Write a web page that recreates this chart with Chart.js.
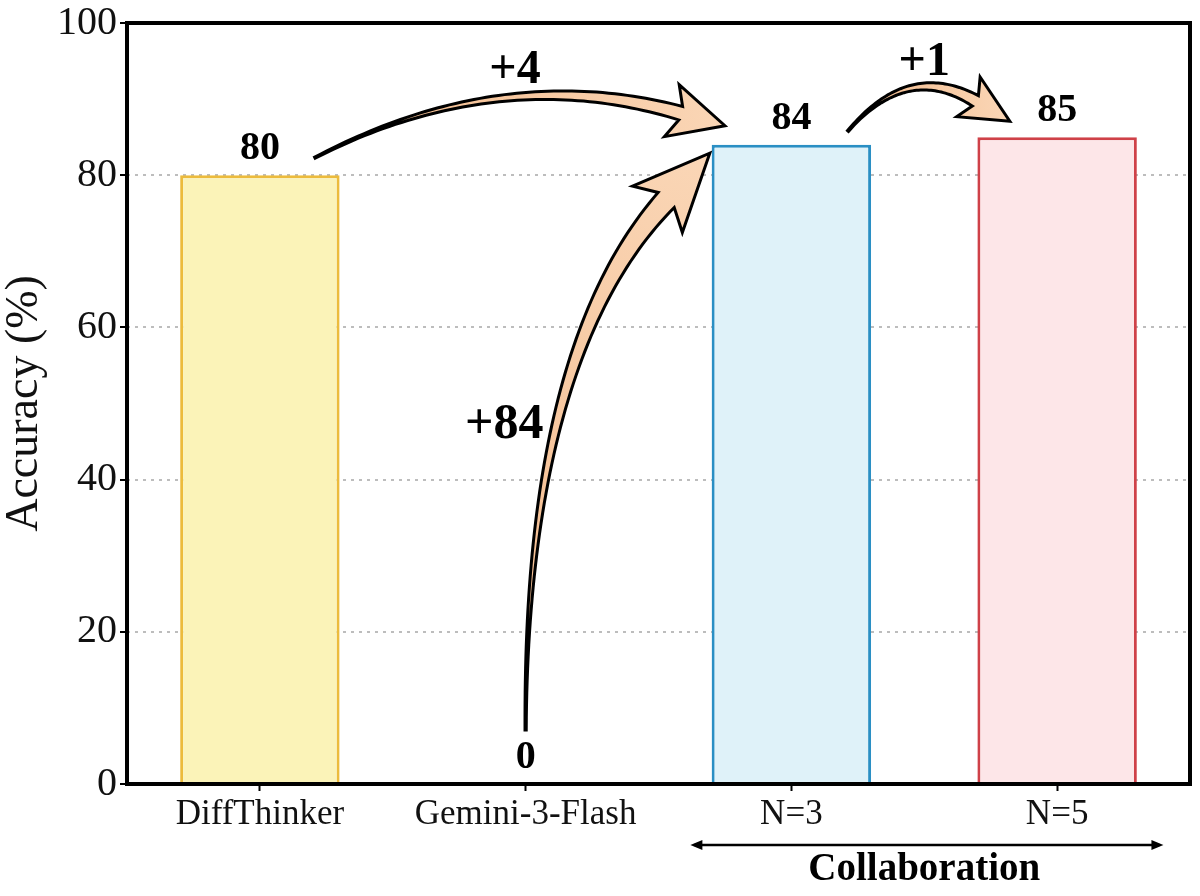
<!DOCTYPE html>
<html>
<head>
<meta charset="utf-8">
<title>Accuracy</title>
<script src="https://cdn.jsdelivr.net/npm/chart.js@4.4.1/dist/chart.umd.min.js"></script>
<style>
  html, body { margin: 0; padding: 0; background: #fff; }
  #wrap { width: 1200px; height: 896px; }
</style>
</head>
<body>
<div id="wrap"><canvas id="myChart" width="1200" height="896"></canvas></div>
<script>
// Données du graphe
const categories = ["DiffThinker", "Gemini-3-Flash", "N=3", "N=5"];
const accuracy = [80, 0, 84, 85];
const yTicks = [0, 20, 40, 60, 80, 100];
const gains = ["+4", "+84", "+1"];
const groupLabel = "Collaboration";

// Couleurs des barres
const fillColors = ["#fbf3b8", "#eeeeee", "#dff2f9", "#fde6e8"];
const borderColors = ["#ecbb3c", "#999999", "#2a8fc4", "#cf4148"];

const serif = '"Liberation Serif", "DejaVu Serif", serif';

// Flèches courbes : départ, point de contrôle, pointe (index de catégorie, valeur)
const arrows = [
    { from: [0.207, 82.3], ctrl: [0.903, 94.9], tip: [1.75, 86.5], headLen: 46, headHalf: 27, shaftHalf: 7, label: gains[0], labelAt: [0.96, 93.7], size: 48 },
    { from: [1.0, 7.1], ctrl: [1.0, 56.9], tip: [1.693, 82.9], headLen: 64, headHalf: 34, shaftHalf: 11, label: gains[1], labelAt: [0.92, 47.1], size: 50 },
    { from: [2.213, 85.8], ctrl: [2.438, 95.0], tip: [2.822, 87.1], headLen: 40, headHalf: 23, shaftHalf: 6, label: gains[2], labelAt: [2.5, 94.75], size: 48 }
];

function toPixel(chart, p) {
    return [chart.scales.x.getPixelForValue(p[0]), chart.scales.y.getPixelForValue(p[1])];
}

function drawArrow(ctx, chart, a) {
    const S = toPixel(chart, a.from);
    const C = toPixel(chart, a.ctrl);
    const T = toPixel(chart, a.tip);
    let dx = T[0] - C[0], dy = T[1] - C[1];
    const len = Math.hypot(dx, dy);
    dx /= len; dy /= len;
    // base de la pointe
    const B = [T[0] - dx * a.headLen, T[1] - dy * a.headLen];

    const left = [], right = [];
    const n = 60;
    for (let i = 0; i <= n; i++) {
        const t = i / n, u = 1 - t;
        const x = u * u * S[0] + 2 * u * t * C[0] + t * t * B[0];
        const y = u * u * S[1] + 2 * u * t * C[1] + t * t * B[1];
        let tx = 2 * u * (C[0] - S[0]) + 2 * t * (B[0] - C[0]);
        let ty = 2 * u * (C[1] - S[1]) + 2 * t * (B[1] - C[1]);
        const l = Math.hypot(tx, ty);
        tx /= l; ty /= l;
        const w = 0.6 + (a.shaftHalf - 0.6) * Math.pow(t, 1.3);
        left.push([x - ty * w, y + tx * w]);
        right.push([x + ty * w, y - tx * w]);
    }
    const nx = -dy, ny = dx;
    const back = a.headLen * 0.2;
    const barbL = [B[0] - dx * back + nx * a.headHalf, B[1] - dy * back + ny * a.headHalf];
    const barbR = [B[0] - dx * back - nx * a.headHalf, B[1] - dy * back - ny * a.headHalf];

    ctx.save();
    ctx.beginPath();
    ctx.moveTo(left[0][0], left[0][1]);
    left.forEach(p => ctx.lineTo(p[0], p[1]));
    ctx.lineTo(barbL[0], barbL[1]);
    ctx.lineTo(T[0], T[1]);
    ctx.lineTo(barbR[0], barbR[1]);
    for (let i = right.length - 1; i >= 0; i--) {
        ctx.lineTo(right[i][0], right[i][1]);
    }
    ctx.closePath();
    const grad = ctx.createLinearGradient(S[0], S[1], T[0], T[1]);
    grad.addColorStop(0, "#f3b98a");
    grad.addColorStop(1, "#fad6b6");
    ctx.fillStyle = grad;
    ctx.fill();
    ctx.lineWidth = 3;
    ctx.lineJoin = "miter";
    ctx.strokeStyle = "#000";
    ctx.stroke();

    // texte du gain
    const L = toPixel(chart, a.labelAt);
    ctx.fillStyle = "#000";
    ctx.font = "bold " + a.size + "px " + serif;
    ctx.textAlign = "center";
    ctx.textBaseline = "middle";
    ctx.fillText(a.label, L[0], L[1]);
    ctx.restore();
}

// Plugin : valeurs au-dessus des barres, flèches, cadre et groupe "Collaboration"
const annotations = {
    id: "annotations",
    afterDatasetsDraw(chart) {
        const ctx = chart.ctx;
        const meta = chart.getDatasetMeta(0);
        ctx.save();
        ctx.fillStyle = "#000";
        ctx.font = "bold 40px " + serif;
        ctx.textAlign = "center";
        ctx.textBaseline = "alphabetic";
        meta.data.forEach((bar, i) => {
            ctx.fillText(String(accuracy[i]), bar.x, bar.y - 16);
        });
        ctx.restore();

        arrows.forEach(a => drawArrow(ctx, chart, a));
    },
    afterDraw(chart) {
        const ctx = chart.ctx;
        const area = chart.chartArea;
        const x = chart.scales.x;
        ctx.save();
        // cadre noir
        ctx.strokeStyle = "#000";
        ctx.lineWidth = 4;
        ctx.strokeRect(area.left, area.top, area.right - area.left, area.bottom - area.top);

        // double flèche sous N=3 et N=5
        const x1 = x.getPixelForValue(1.62);
        const x2 = x.getPixelForValue(3.4);
        const yA = area.bottom + 61;
        ctx.lineWidth = 2.5;
        ctx.beginPath();
        ctx.moveTo(x1 + 4, yA);
        ctx.lineTo(x2 - 4, yA);
        ctx.stroke();
        ctx.fillStyle = "#000";
        ctx.beginPath();
        ctx.moveTo(x1, yA);
        ctx.lineTo(x1 + 12, yA - 5);
        ctx.lineTo(x1 + 12, yA + 5);
        ctx.closePath();
        ctx.fill();
        ctx.beginPath();
        ctx.moveTo(x2, yA);
        ctx.lineTo(x2 - 12, yA - 5);
        ctx.lineTo(x2 - 12, yA + 5);
        ctx.closePath();
        ctx.fill();

        ctx.font = "bold 39px " + serif;
        ctx.textAlign = "center";
        ctx.textBaseline = "alphabetic";
        ctx.fillText(groupLabel, (x.getPixelForValue(2) + x.getPixelForValue(3)) / 2, area.bottom + 96);
        ctx.restore();
    }
};

Chart.defaults.font.family = serif;
Chart.defaults.color = "#111";

const ctx = document.getElementById("myChart").getContext("2d");
const myChart = new Chart(ctx, {
    type: "bar",
    data: {
        labels: categories,
        datasets: [{
            data: accuracy,
            backgroundColor: fillColors,
            borderColor: borderColors,
            borderWidth: 3,
            borderSkipped: "start",
            barPercentage: 0.6,
            categoryPercentage: 1.0
        }]
    },
    options: {
        responsive: false,
        animation: false,
        layout: { padding: { top: 22, right: 10, left: 0, bottom: 0 } },
        plugins: {
            legend: { display: false },
            tooltip: { enabled: false }
        },
        scales: {
            x: {
                offset: true,
                grid: {
                    offset: false,
                    drawOnChartArea: false,
                    drawTicks: true,
                    tickLength: 7,
                    tickWidth: 2,
                    tickColor: "#000"
                },
                border: { display: false },
                ticks: {
                    font: { size: 35, lineHeight: 1 },
                    color: "#111",
                    padding: 6,
                    maxRotation: 0
                },
                afterFit(scale) { scale.height = 112; }
            },
            y: {
                min: 0,
                max: 100,
                afterBuildTicks(scale) { scale.ticks = yTicks.map(v => ({ value: v })); },
                grid: {
                    color: c => (c.tick && (c.tick.value === 0 || c.tick.value === 100)) ? "rgba(0,0,0,0)" : "#bdbdbd",
                    lineWidth: 2,
                    drawTicks: true,
                    tickLength: 7,
                    tickWidth: 2,
                    tickColor: "#000",
                    tickBorderDash: []
                },
                border: { display: false, dash: [3, 5] },
                ticks: {
                    font: { size: 40, lineHeight: 1 },
                    color: "#111",
                    padding: 3
                },
                title: {
                    display: true,
                    text: "Accuracy (%)",
                    font: { size: 46, lineHeight: 1.1 },
                    color: "#111",
                    padding: { top: 0, bottom: 0 }
                },
                afterFit(scale) { scale.width = 127; }
            }
        }
    },
    plugins: [annotations]
});
</script>
</body>
</html>
